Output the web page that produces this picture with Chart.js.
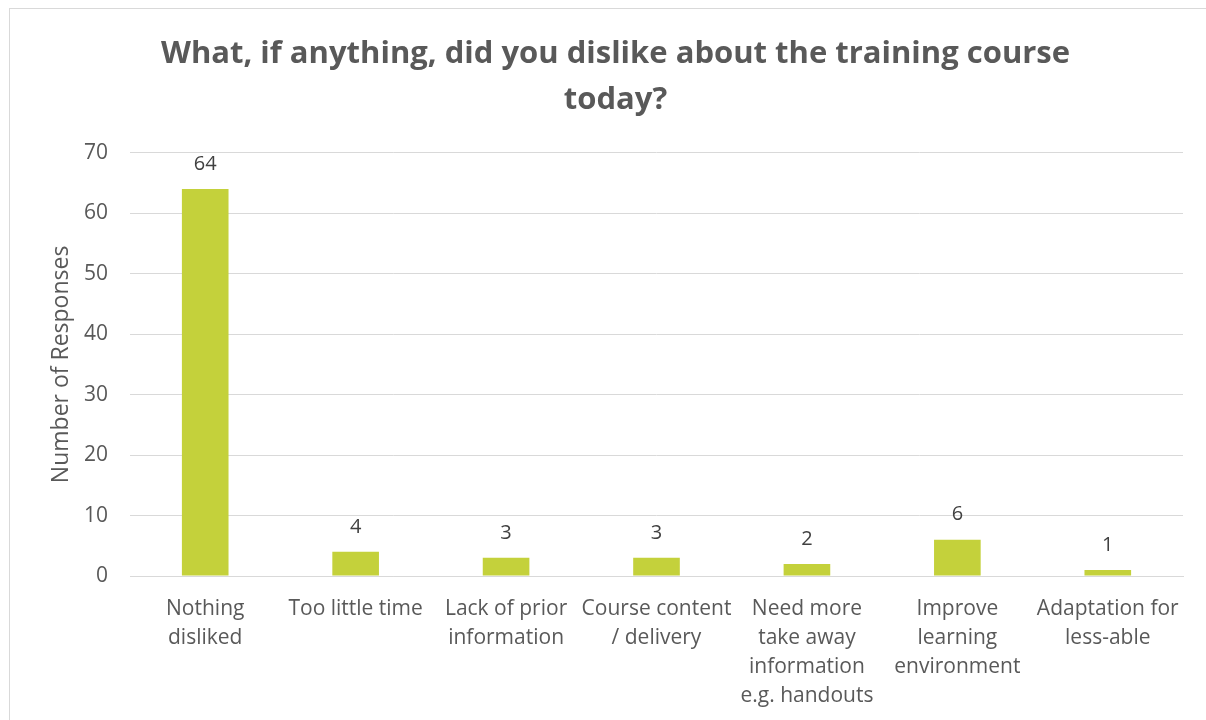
<!DOCTYPE html>
<html>
<head>
<meta charset="utf-8">
<script src="https://cdn.jsdelivr.net/npm/chart.js@4/dist/chart.umd.min.js"></script>
<style>
  html, body { margin: 0; padding: 0; background: #fff; overflow: hidden; }
  #wrap { position: relative; width: 1206px; height: 720px; overflow: hidden; }
  #frame { position: absolute; left: 9px; top: 8px; width: 1400px; height: 900px; border: 1px solid #d9d9d9; box-sizing: border-box; }
  canvas { position: absolute; left: 0; top: 0; }
</style>
</head>
<body>
<div id="wrap">
  <div id="frame"></div>
  <canvas id="chart" width="1206" height="720"></canvas>
</div>
<script>
const TITLE_LINES = ['What, if anything, did you dislike about the training course', 'today?'];
const Y_TITLE = 'Number of Responses';
const CATEGORIES = [
  ['Nothing', 'disliked'],
  ['Too little time'],
  ['Lack of prior', 'information'],
  ['Course content', '/ delivery'],
  ['Need more', 'take away', 'information', 'e.g. handouts'],
  ['Improve', 'learning', 'environment'],
  ['Adaptation for', 'less-able'],
];
const RESPONSES = [64, 4, 3, 3, 2, 6, 1];
const Y_MIN = 0;
const Y_MAX = 70;
const Y_STEP = 10;

const FONT = '"Open Sans", "DejaVu Sans", sans-serif';
const TEXT = '#595959';

// value labels above the bars
const valueLabels = {
  id: 'valueLabels',
  afterDatasetsDraw(chart) {
    const { ctx } = chart;
    const meta = chart.getDatasetMeta(0);
    ctx.save();
    ctx.font = `20px ${FONT}`;
    ctx.fillStyle = '#404040';
    ctx.textAlign = 'center';
    ctx.textBaseline = 'middle';
    meta.data.forEach((bar, i) => {
      ctx.fillText(String(RESPONSES[i]), bar.x, bar.y - 25);
    });
    ctx.restore();
  },
};

new Chart(document.getElementById('chart'), {
  type: 'bar',
  data: {
    labels: CATEGORIES,
    datasets: [{
      data: RESPONSES,
      backgroundColor: '#C4D13B',
      categoryPercentage: 1,
      barPercentage: 0.31,
    }],
  },
  options: {
    responsive: false,
    animation: false,
    layout: { padding: { top: 21, left: 48, right: 23, bottom: 0 } },
    plugins: {
      legend: { display: false },
      tooltip: { enabled: false },
      title: {
        display: true,
        text: TITLE_LINES,
        color: TEXT,
        font: { family: FONT, size: 31, weight: 'bold', lineHeight: 1.48 },
        padding: { top: 10, bottom: 30 },
      },
    },
    scales: {
      x: {
        grid: { display: false, drawTicks: false },
        border: { color: '#d9d9d9', width: 1 },
        ticks: {
          color: TEXT,
          font: { family: FONT, size: 21, lineHeight: 1.38 },
          padding: 19,
          maxRotation: 0,
          autoSkip: false,
        },
        afterFit(scale) { scale.height = 144; },
      },
      y: {
        min: Y_MIN,
        max: Y_MAX,
        grid: { color: '#d9d9d9', lineWidth: 1, drawTicks: false },
        border: { display: false },
        ticks: {
          stepSize: Y_STEP,
          color: TEXT,
          font: { family: FONT, size: 21 },
          padding: 22,
        },
        title: {
          display: true,
          text: Y_TITLE,
          color: TEXT,
          font: { family: FONT, size: 23 },
          padding: 0,
        },
        afterFit(scale) { scale.width = 82; },
      },
    },
  },
  plugins: [valueLabels],
});
</script>
</body>
</html>
